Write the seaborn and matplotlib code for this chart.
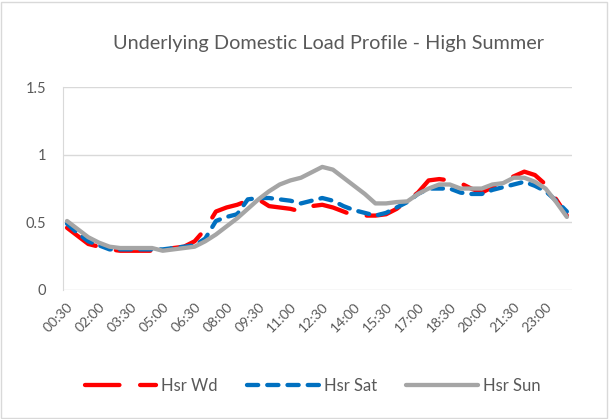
import matplotlib
matplotlib.use("Agg")
import matplotlib.pyplot as plt
import seaborn as sns
import pandas as pd
import numpy as np

# half-hourly load profile, 00:30 .. 24:00 (48 points)
hsr_wd = [0.46, 0.40, 0.34, 0.32, 0.30, 0.29, 0.29, 0.29, 0.29, 0.29,
          0.31, 0.32, 0.36, 0.45, 0.58, 0.61, 0.63, 0.66, 0.67, 0.62,
          0.61, 0.60, 0.58, 0.62, 0.63, 0.61, 0.58, 0.55, 0.55, 0.55,
          0.56, 0.60, 0.66, 0.72, 0.81, 0.82, 0.81, 0.79, 0.75, 0.72,
          0.76, 0.81, 0.84, 0.875, 0.85, 0.78, 0.67, 0.55]
hsr_sat = [0.49, 0.42, 0.36, 0.33, 0.30, 0.30, 0.30, 0.30, 0.30, 0.30,
           0.31, 0.32, 0.33, 0.38, 0.51, 0.54, 0.56, 0.67, 0.68, 0.68,
           0.67, 0.66, 0.64, 0.66, 0.68, 0.66, 0.62, 0.59, 0.57, 0.55,
           0.57, 0.61, 0.65, 0.71, 0.75, 0.75, 0.75, 0.72, 0.71, 0.71,
           0.74, 0.76, 0.78, 0.80, 0.77, 0.73, 0.66, 0.58]
hsr_sun = [0.51, 0.45, 0.39, 0.35, 0.32, 0.31, 0.31, 0.31, 0.31, 0.29,
           0.30, 0.31, 0.32, 0.36, 0.41, 0.47, 0.53, 0.60, 0.67, 0.73,
           0.78, 0.81, 0.83, 0.87, 0.91, 0.89, 0.83, 0.77, 0.71, 0.64,
           0.64, 0.65, 0.655, 0.71, 0.75, 0.78, 0.78, 0.75, 0.75, 0.75,
           0.78, 0.79, 0.83, 0.83, 0.80, 0.75, 0.65, 0.54]
tick_labels = ["00:30", "02:00", "03:30", "05:00", "06:30", "08:00", "09:30", "11:00",
               "12:30", "14:00", "15:30", "17:00", "18:30", "20:00", "21:30", "23:00"]
series_names = ["Hsr Wd", "Hsr Sat", "Hsr Sun"]
colors = ["#ff0000", "#0070c0", "#a5a5a5"]

n = len(hsr_wd)
df = pd.DataFrame({
    "slot": list(range(n)) * 3,
    "load": hsr_wd + hsr_sat + hsr_sun,
    "series": [s for s in series_names for _ in range(n)],
})

sns.set_style("white")
plt.rcParams["font.family"] = ["Lato", "DejaVu Sans"]
txt = "#595959"

fig = plt.figure(figsize=(6.09, 4.19), dpi=100)
ax = fig.add_axes([0.1034, 0.308, 0.8356, 0.484])

sns.lineplot(data=df, x="slot", y="load", hue="series", style="series",
             hue_order=series_names, style_order=series_names,
             palette=colors, dashes=[(8, 4.8), (2.6, 2.1), ""],
             linewidth=3.1, dash_capstyle="round", solid_capstyle="round",
             ax=ax, legend=True)

ax.set_xlim(-0.38, 47.47)
ax.set_ylim(0, 1.5)
ax.set_yticks([0, 0.5, 1, 1.5])
ax.set_yticklabels(["0", "0.5", "1", "1.5"])
ax.set_xticks(np.arange(0, n, 3))
ax.set_xticklabels(tick_labels, rotation=45, ha="right", rotation_mode="anchor")
ax.tick_params(axis="y", colors=txt, labelsize=10.5, length=0, pad=12)
ax.tick_params(axis="x", colors=txt, labelsize=10, length=0, pad=8)
ax.grid(axis="y", color="#d9d9d9", linewidth=1)
ax.set_axisbelow(True)
ax.set_xlabel("")
ax.set_ylabel("")
for side in ["top", "right", "bottom"]:
    ax.spines[side].set_visible(False)
ax.spines["left"].set_color("#d9d9d9")

fig.text(0.539, 0.897, "Underlying Domestic Load Profile - High Summer",
         ha="center", va="center", fontsize=14.3, color=txt)

handles, labels = ax.get_legend_handles_labels()
ax.legend_.remove()
for h in handles:
    h.set_dash_capstyle("round")
    h.set_solid_capstyle("round")
fig.legend(handles, labels, loc="center", bbox_to_anchor=(0.513, 0.078), ncol=3,
           frameon=False, fontsize=12, handlelength=4.3, columnspacing=1.75,
           handletextpad=0.3, labelcolor=txt)

fig.patches.append(plt.Rectangle((0.002, 0.002), 0.994, 0.994, transform=fig.transFigure,
                                 fill=False, edgecolor="#d9d9d9", linewidth=1))

fig.savefig("out.png", dpi=100)
